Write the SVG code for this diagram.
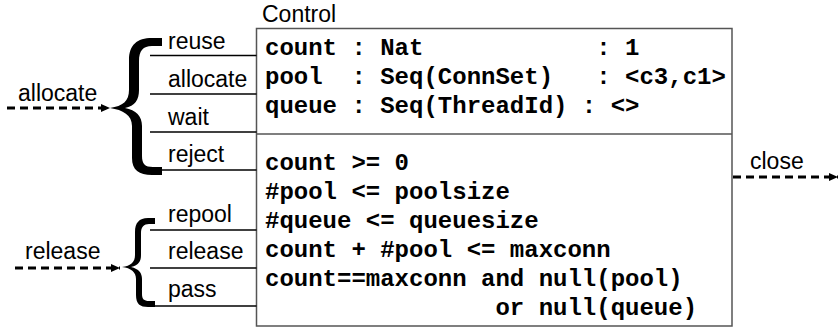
<svg xmlns="http://www.w3.org/2000/svg" width="838" height="328" viewBox="0 0 838 328">
  <style>
    .lbl { font-family: "Liberation Sans", Arial, sans-serif; font-size: 23px; fill: #000; }
    .code { font-family: "Liberation Mono", "Courier New", monospace; font-size: 24px; font-weight: bold; fill: #000; }
    .box { fill: #fff; stroke: #555; stroke-width: 1.5; }
    .div { stroke: #555; stroke-width: 1.5; }
    .branch { stroke: #000; stroke-width: 1.5; fill: none; }
    .brace { fill: #000; stroke: none; }
    .flow { stroke: #000; stroke-width: 3; stroke-dasharray: 8 5; fill: none; }
  </style>
  <defs>
    <marker id="head" markerUnits="userSpaceOnUse" markerWidth="10" markerHeight="10" refX="9" refY="4" orient="auto">
      <path d="M0,0 L9,4 L0,8 Z" fill="#000"/>
    </marker>
  </defs>

  <!-- Control state machine box -->
  <g id="control">
    <text class="lbl" x="262" y="22">Control</text>
    <rect class="box" x="256.5" y="28.5" width="475.5" height="297.5"/>
    <line class="div" x1="256.5" y1="134" x2="732" y2="134"/>
    <text class="code" xml:space="preserve" x="265" y="55">count : Nat            : 1</text>
    <text class="code" xml:space="preserve" x="265" y="84">pool  : Seq(ConnSet)   : &lt;c3,c1&gt;</text>
    <text class="code" xml:space="preserve" x="265" y="113">queue : Seq(ThreadId) : &lt;&gt;</text>
    <text class="code" xml:space="preserve" x="265" y="170">count &gt;= 0</text>
    <text class="code" xml:space="preserve" x="265" y="199">#pool &lt;= poolsize</text>
    <text class="code" xml:space="preserve" x="265" y="228">#queue &lt;= queuesize</text>
    <text class="code" xml:space="preserve" x="265" y="257">count + #pool &lt;= maxconn</text>
    <text class="code" xml:space="preserve" x="265" y="286">count==maxconn and null(pool)</text>
    <text class="code" xml:space="preserve" x="265" y="315">                or null(queue)</text>
  </g>

  <!-- allocate operation: brace fanning out to its outcomes -->
  <g id="allocate-op">
    <line class="branch" x1="150" y1="55.5" x2="256.5" y2="55.5"/>
    <line class="branch" x1="150" y1="94" x2="256.5" y2="94"/>
    <line class="branch" x1="150" y1="132" x2="256.5" y2="132"/>
    <line class="branch" x1="150" y1="170" x2="256.5" y2="170"/>
    <path class="brace" d="M162,38 L152,38 C137,38 129,45 129,60 L129,90 C129,101 123,106 110,108 C123,110 132,115 132,126 L132,158 C132,170 139,175 152,175 L162,175 L162,167 L153,167 C145,167 142,164 142,156 L142,126 C142,116 136,110 125,108 C135,106 139,100 139,90 L139,61 C139,51 143,46 152,46 L162,46 Z"/>
    <text class="lbl" x="168" y="49">reuse</text>
    <text class="lbl" x="168" y="87">allocate</text>
    <text class="lbl" x="168" y="125">wait</text>
    <text class="lbl" x="168" y="162">reject</text>
  </g>

  <!-- release operation: brace fanning out to its outcomes -->
  <g id="release-op">
    <line class="branch" x1="150" y1="230" x2="256.5" y2="230"/>
    <line class="branch" x1="150" y1="268" x2="256.5" y2="268"/>
    <line class="branch" x1="150" y1="306" x2="256.5" y2="306"/>
    <path class="brace" d="M155,218 L148,218 C139,218 135,223 135,232 L135,255 C135,262 131,266 122,267 C131,268 136,272 136,279 L136,295 C136,304 140,307 148,307 L155,307 L155,301 L149,301 C144,301 142,299 142,294 L142,279 C142,273 139,269 131,267 C139,265 141,261 141,255 L141,233 C141,227 144,224 149,224 L155,224 Z"/>
    <text class="lbl" x="168" y="222">repool</text>
    <text class="lbl" x="168" y="259">release</text>
    <text class="lbl" x="168" y="297">pass</text>
  </g>

  <!-- incoming and outgoing events -->
  <g id="connectors">
    <line class="flow" x1="7" y1="108" x2="110" y2="108" marker-end="url(#head)"/>
    <text class="lbl" x="18" y="101">allocate</text>
    <line class="flow" x1="15" y1="268" x2="120" y2="268" marker-end="url(#head)"/>
    <text class="lbl" x="25" y="259">release</text>
    <line class="flow" x1="733" y1="177" x2="838" y2="177" marker-end="url(#head)"/>
    <text class="lbl" x="750" y="169">close</text>
  </g>
</svg>
